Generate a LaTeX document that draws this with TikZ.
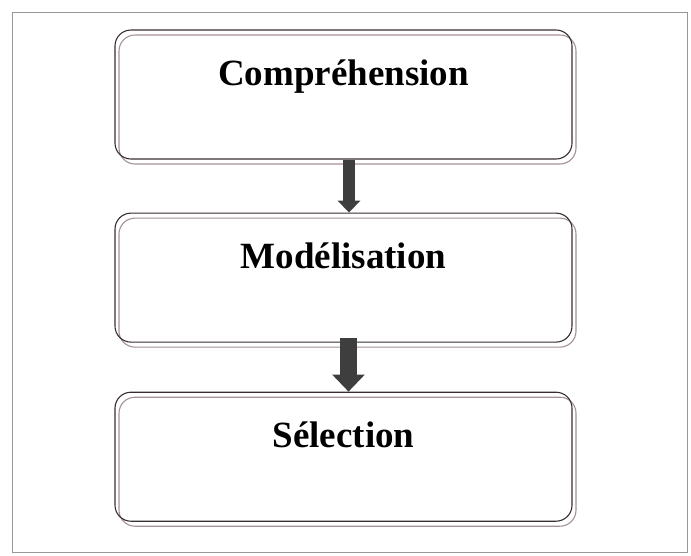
\documentclass[tikz,border=0pt]{standalone}
\usepackage{fontspec}
\setmainfont{Liberation Serif}
\usetikzlibrary{positioning,shadows,arrows.meta}
\definecolor{boxline}{RGB}{55,45,50}
\definecolor{boxshade}{RGB}{165,145,152}
\definecolor{arrowfill}{RGB}{62,62,62}
\definecolor{framegray}{RGB}{150,150,155}
\begin{document}
\begin{tikzpicture}[x=1pt,y=-1pt,
  phase/.style={draw=boxline, line width=1.1pt, rounded corners=16pt,
    inner sep=0pt, text width=457pt, align=center,
    text height=55pt, text depth=74pt,
    font=\fontsize{37}{40}\selectfont\bfseries,
    general shadow={shadow xshift=4pt, shadow yshift=-5pt,
      draw=boxshade, fill=none, line width=1.1pt}},
  flow/.style={draw=arrowfill, -{Triangle[width=#1*1.85pt, length=#1*1pt]}, line width=#1*1pt},
  node distance=51pt]
 		\useasboundingbox (0,0) rectangle (691,555);
 		\draw[framegray, line width=0.6pt] (12,12) rectangle (687,552);

 		\node[phase]     (comp)    at (343.5,94.5)       {Compréhension};
 		\node[phase]     (mod)     [below=53pt of comp]  {Modélisation};
 		\node[phase]     (sel)     [below=49pt of mod]   {Sélection};

 		\draw[flow=12] ([xshift=5.5pt]comp.south) -- ([xshift=5.5pt]mod.north);
 		\draw[flow=17] ([xshift=5pt,yshift=5pt]mod.south) -- ([xshift=5pt]sel.north);
 		\end{tikzpicture}
\end{document}
